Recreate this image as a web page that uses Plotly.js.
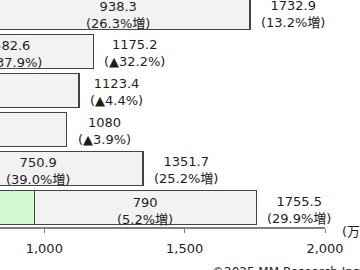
<!DOCTYPE html>
<html>
<head>
<meta charset="utf-8">
<script src="https://cdn.plot.ly/plotly-3.0.1.min.js"></script>
<style>html,body{margin:0;padding:0;background:#fff;}#chart{width:360px;height:270px;}</style>
</head>
<body>
<div id="chart"></div>
<script>
// Data (top row first)
const categories = ["2019年度", "2020年度", "2021年度", "2022年度", "2023年度", "2024年度"];
const firstHalf = [794.6, 592.6, 552.6, 539.9, 600.8, 965.5];
const secondHalf = [938.3, 582.6, 570.8, 540.1, 750.9, 790.0];
const secondHalfChange = ["26.3%増", "▲37.9%", "▲2.0%", "▲5.4%", "39.0%増", "5.2%増"];
const totals = [1732.9, 1175.2, 1123.4, 1080.0, 1351.7, 1755.5];
const totalChange = ["13.2%増", "▲32.2%", "▲4.4%", "▲3.9%", "25.2%増", "29.9%増"];
const unitLabel = "(万台)";
const sourceLabel = "©2025 MM Research Institute, Ltd.";

const FONT = "'DejaVu Sans', 'Noto Sans CJK JP', sans-serif";
const TXT = "#1e1e1e";
const fmt = v => (Math.round(v * 10) / 10).toString();

const traces = [
  {
    type: "bar", orientation: "h", name: "上期",
    y: categories, x: firstHalf,
    marker: {color: "#d2f9d2", line: {color: "#444444", width: 1.2}},
    hoverinfo: "none"
  },
  {
    type: "bar", orientation: "h", name: "下期",
    y: categories, x: secondHalf,
    marker: {color: "#f2f2f2", line: {color: "#444444", width: 1.2}},
    hoverinfo: "none"
  }
];

const annotations = [];
categories.forEach((c, i) => {
  annotations.push({
    xref: "x", yref: "y", x: firstHalf[i] + secondHalf[i] / 2, y: c,
    text: fmt(secondHalf[i]) + "<br>(" + secondHalfChange[i] + ")",
    showarrow: false, align: "center", xanchor: "center", yanchor: "middle", yshift: -3,
    font: {family: FONT, size: 13, color: TXT}
  });
  annotations.push({
    xref: "x", yref: "y", x: totals[i], y: c,
    text: fmt(totals[i]) + "<br>(" + totalChange[i] + ")",
    showarrow: false, align: "center", xanchor: "left", yanchor: "middle", xshift: 9, yshift: -2,
    font: {family: FONT, size: 13, color: TXT}
  });
});
annotations.push({
  xref: "paper", yref: "paper", x: 1.045, y: -0.018, xanchor: "left", yanchor: "middle",
  text: unitLabel, showarrow: false, font: {family: FONT, size: 13, color: TXT}
});
annotations.push({
  xref: "paper", yref: "paper", x: 0.645, y: -0.16, xanchor: "left", yanchor: "top",
  text: sourceLabel, showarrow: false, font: {family: FONT, size: 12, color: TXT}
});

const layout = {
  width: 360, height: 270,
  margin: {l: 0, r: 35, t: 0, b: 43, pad: 0},
  paper_bgcolor: "#ffffff", plot_bgcolor: "#ffffff",
  barmode: "stack", bargap: 0.12, showlegend: false,
  font: {family: FONT, size: 13, color: TXT},
  xaxis: {
    range: [842.2, 2000], dtick: 500, tick0: 0, tickformat: ",d",
    showgrid: false, zeroline: false,
    showline: true, linecolor: "#7f7f7f", linewidth: 1.5,
    ticks: "outside", ticklen: 4, tickcolor: "#7f7f7f", tickwidth: 1,
    ticklabelstandoff: 5,
    tickfont: {family: FONT, size: 13, color: TXT}
  },
  yaxis: {
    type: "category", range: [5.5, -0.32], autorange: false,
    showticklabels: false, showgrid: false, zeroline: false, showline: false, ticks: ""
  },
  annotations: annotations
};

Plotly.newPlot("chart", traces, layout, {staticPlot: true, displayModeBar: false});
</script>
</body>
</html>
